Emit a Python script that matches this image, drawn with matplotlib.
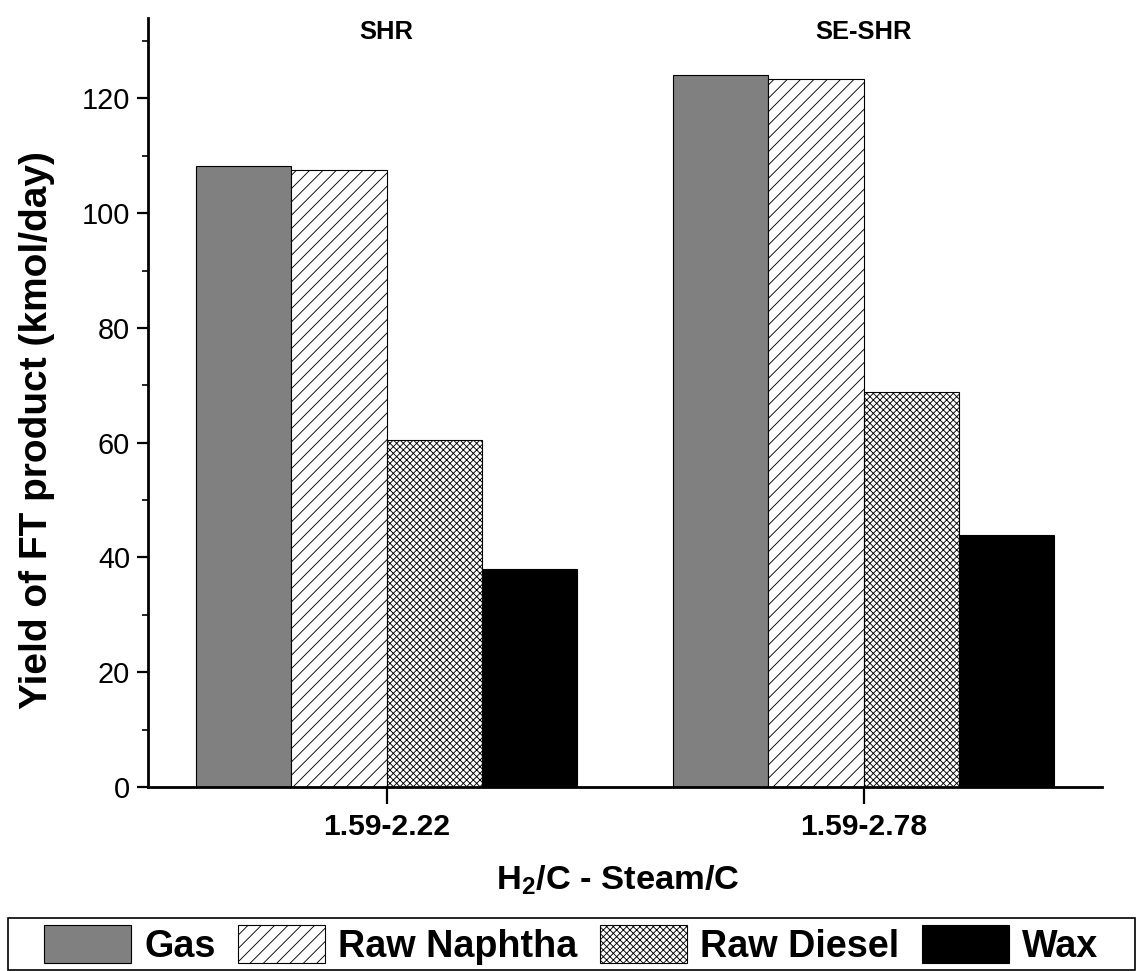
import numpy as np
import matplotlib
matplotlib.use('Agg')
import matplotlib.pyplot as plt
from matplotlib.ticker import MultipleLocator
from matplotlib.patches import Rectangle

DPI = 80
W, H = 1138, 971

plt.rcParams['font.family'] = ['Liberation Sans', 'DejaVu Sans']
plt.rcParams['hatch.linewidth'] = 0.8
plt.rcParams['mathtext.default'] = 'regular'

groups = ['SHR', 'SE-SHR']
tick_labels = ['1.59-2.22', '1.59-2.78']
products = ['Gas', 'Raw Naphtha', 'Raw Diesel', 'Wax']

gas = [108.2, 124.0]
naphtha = [107.6, 123.3]
diesel = [60.5, 68.9]
wax = [38.0, 43.9]

colors = ['#808080', 'white', 'white', 'black']
hatches = [None, '//', 'xxxx', None]

fig = plt.figure(figsize=(W / DPI, H / DPI), dpi=DPI)
ax = fig.add_axes([148 / W, 184 / H, (1102 - 148) / W, (787 - 18) / H])

x = np.arange(len(groups))
width = 0.2
series = [gas, naphtha, diesel, wax]
for i, vals in enumerate(series):
	ax.bar(x + (i - 1.5) * width, vals, width, color=colors[i], hatch=hatches[i],
		edgecolor='black', linewidth=1.0, label=products[i])

ax.set_xlim(-0.5, 1.5)
ax.set_ylim(0, 134)

ax.set_xticks(x)
ax.set_xticklabels(tick_labels, fontweight='bold', fontsize=27)
ax.yaxis.set_major_locator(MultipleLocator(20))
ax.yaxis.set_minor_locator(MultipleLocator(10))
ax.tick_params(axis='y', which='major', labelsize=26, length=10, width=2, direction='out', pad=6)
ax.tick_params(axis='y', which='minor', length=5, width=1.5, direction='out')
ax.tick_params(axis='x', which='major', length=15, width=2, direction='out', pad=8)

for s in ['top', 'right']:
	ax.spines[s].set_visible(False)
for s in ['left', 'bottom']:
	ax.spines[s].set_linewidth(2.5)

for i, g in enumerate(groups):
	ax.text(x[i], 131.5, g, ha='center', va='center', fontweight='bold', fontsize=23)

ax.set_ylabel('Yield of FT product (kmol/day)', fontweight='bold', fontsize=35)
ax.yaxis.set_label_coords(-0.098, 0.464)
ax.set_xlabel('H$_2$/C - Steam/C', fontweight='bold', fontsize=31)
ax.xaxis.set_label_coords(0.492, -0.100)

# legend entries without frame, box drawn separately to get the wide padding
leg = fig.legend(loc='center', bbox_to_anchor=(0.502, 0.027), ncol=4,
	prop={'weight': 'bold', 'size': 34}, frameon=False,
	borderpad=0.12, handlelength=2.3,
	handleheight=1.15, handletextpad=0.35, columnspacing=0.6)
fig.add_artist(Rectangle((8 / W, 1 / H), 1127 / W, 52 / H, transform=fig.transFigure,
	facecolor='none', edgecolor='black', linewidth=1.5))

fig.savefig('out.png', dpi=DPI)
